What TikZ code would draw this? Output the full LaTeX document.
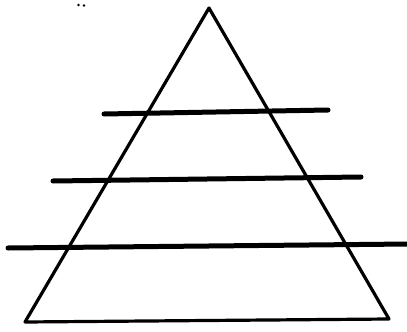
\documentclass[tikz,border=0pt]{standalone}
\begin{document}
\begin{tikzpicture}[x=1pt,y=-1pt,
  tri/.style={line width=3.2pt,line join=round,line cap=round},
  bar/.style={line width=5pt,line cap=round}]
\useasboundingbox (0,0) rectangle (407,332);
\coordinate (apex) at (209,8);
\coordinate (bl) at (25,322);
\coordinate (br) at (389,319);
\draw[tri] (apex) -- (bl) -- (br) -- cycle;
\coordinate (a1) at (104,114); \coordinate (b1) at (328,110);
\coordinate (a2) at (53,181); \coordinate (b2) at (361,177);
\coordinate (a3) at (8,248); \coordinate (b3) at (409,244);
\draw[bar] (a1) -- (b1);
\draw[bar] (a2) -- (b2);
\draw[bar] (a3) -- (b3);
\fill (78.5,5) circle (1.3);
\fill (84,5.5) circle (1.3);
\end{tikzpicture}
\end{document}
